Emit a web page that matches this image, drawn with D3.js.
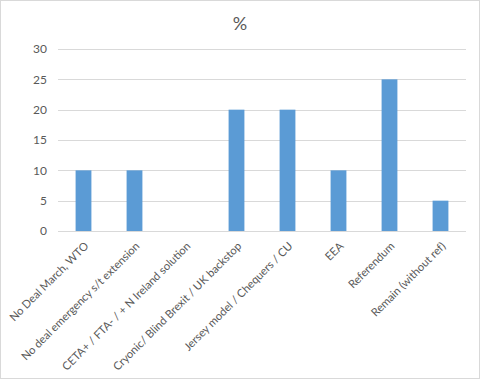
<!DOCTYPE html>
<html><head><meta charset="utf-8">
<script src="https://cdn.jsdelivr.net/npm/d3@7/dist/d3.min.js"></script>
<style>body{margin:0;background:#fff}svg{display:block}text{font-family:Lato,"Open Sans",sans-serif}</style>
</head><body><svg id="c" width="480" height="379"></svg>
<script>
const categories = ["No Deal March, WTO","No deal emergency s/t extension","CETA+ / FTA- / + N Ireland solution","Cryonic/ Blind Brexit / UK backstop","Jersey model / Chequers / CU","EEA","Referendum","Remain (without ref)"];
const values = [10,10,0,20,20,10,25,5];
const yTicks = [0,5,10,15,20,25,30];
const title = "%";

const svg = d3.select("#c");
svg.append("rect").attr("x",0.5).attr("y",0.5).attr("width",479).attr("height",378).attr("fill","#fff").attr("stroke","#d9d9d9");
const m = {l:58, r:466, t:49, b:231};
const x = d3.scaleBand().domain(categories).range([m.l,m.r]).paddingInner(0.69).paddingOuter(0.345);
const y = d3.scaleLinear().domain([0,30]).range([m.b,m.t]);

svg.append("g").selectAll("line").data(yTicks).join("line")
 .attr("x1",m.l).attr("x2",m.r).attr("y1",d=>Math.round(y(d))+0.5).attr("y2",d=>Math.round(y(d))+0.5)
 .attr("stroke","#d9d9d9").attr("stroke-width",1);
svg.append("g").selectAll("text").data(yTicks).join("text")
 .attr("x",47).attr("y",d=>y(d)).attr("dy","0.35em").attr("text-anchor","end")
 .attr("font-size",12).attr("fill","#595959").text(d=>d);
svg.append("g").selectAll("rect").data(values).join("rect")
 .attr("x",(d,i)=>x(categories[i])).attr("width",x.bandwidth())
 .attr("y",d=>y(d)).attr("height",d=>y(0)-y(d)).attr("fill","#5b9bd5");
svg.append("g").selectAll("text").data(categories).join("text")
 .attr("transform",d=>`translate(${x(d)+x.bandwidth()/2+3},${m.b+13}) rotate(-45)`)
 .attr("text-anchor","end").attr("dy","0.35em")
 .attr("font-size",11.2).attr("fill","#595959").text(d=>d);
svg.append("text").attr("x",240).attr("y",24).attr("dy","0.35em").attr("text-anchor","middle")
 .attr("font-size",18).attr("fill","#595959").text(title);
</script></body></html>
